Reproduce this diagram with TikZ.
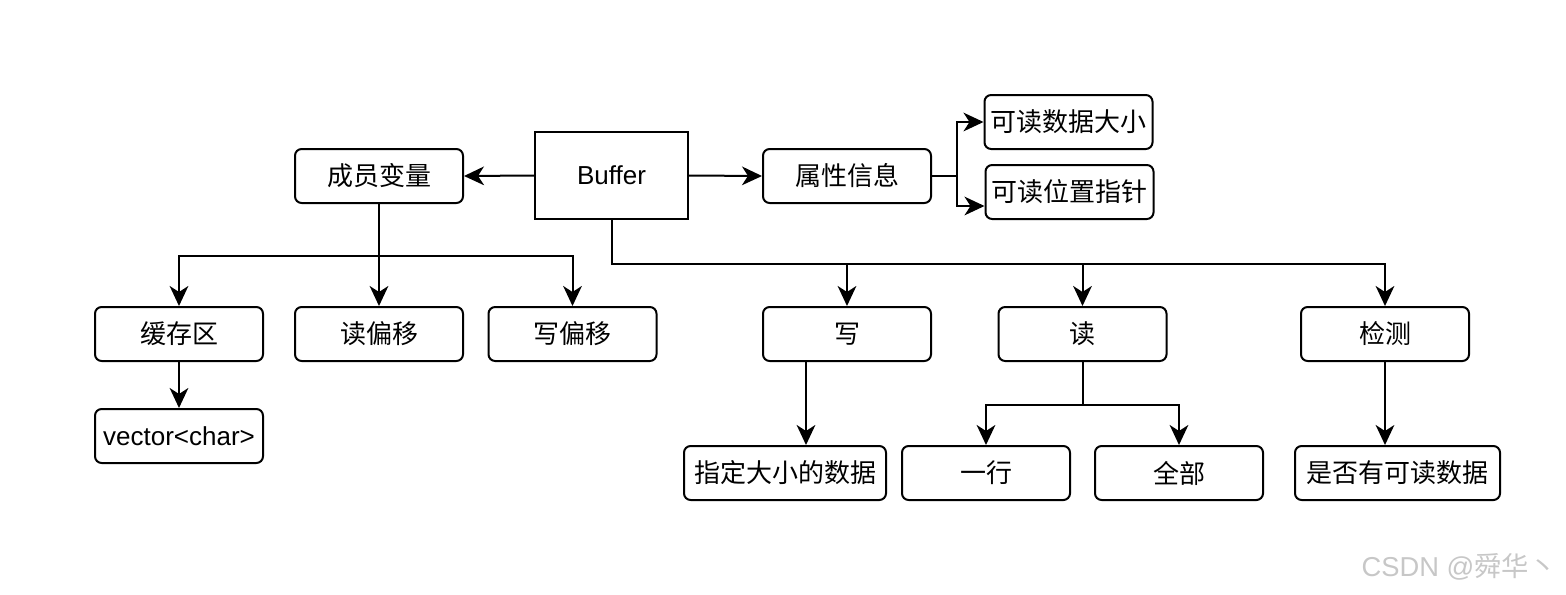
\documentclass[tikz,border=0pt]{standalone}
\usepackage{fontspec}
\setmainfont{Liberation Sans}
\newfontfamily\cjk{Noto Sans CJK SC}
\usepackage{tikz}
\usetikzlibrary{calc, arrows.meta}
\usetikzlibrary{positioning}
\tikzstyle{terminator} = [rectangle, draw, line width=1.5pt, text centered, rounded corners=5pt, minimum width=126pt, minimum height=40.5pt, inner sep=1pt, font=\cjk\fontsize{19.5}{23}\selectfont]
\tikzstyle{conn} = [line width=1.5pt, -{Stealth[length=15pt, width=14pt, inset=4.5pt]}]

\begin{document}
\begin{tikzpicture}[x=0.75pt, y=-0.75pt]
        \useasboundingbox (0, 0) rectangle (1566, 594);

        \node[rectangle, draw, line width=1.5pt, minimum width=114.75pt, minimum height=65.25pt, font=\fontsize{19.5}{23}\selectfont] at (611.5, 175.5) (Buffer) {Buffer};
        \node[terminator] at (379, 176) (Members) {成员变量};
        \node[terminator] at (847, 176) (Attrs) {属性信息};
        \node[terminator] at (1068.5, 122) (ReadableSize) {可读数据大小};
        \node[terminator] at (1069.5, 192) (ReadPointer) {可读位置指针};

        \node[terminator] at (179, 334) (Cache) {缓存区};
        \node[terminator] at (379, 334) (ReadOffset) {读偏移};
        \node[terminator] at (572.5, 334) (WriteOffset) {写偏移};
        \node[terminator, font=\fontsize{19.5}{23}\selectfont] at (179, 436) (Vector) {vector<char>};

        \node[terminator] at (847, 334) (Write) {写};
        \node[terminator] at (1082.5, 334) (Read) {读};
        \node[terminator] at (1385, 334) (Check) {检测};
        \node[terminator, minimum width=151.5pt] at (785, 473) (SizedData) {指定大小的数据};
        \node[terminator] at (986, 473) (OneLine) {一行};
        \node[terminator] at (1179, 473) (All) {全部};
        \node[terminator, minimum width=153.75pt] at (1397.5, 473) (HasData) {是否有可读数据};

        \draw[conn] (Buffer.west) -- (Members.east);
        \draw[conn] (Buffer.east) -- (Attrs.west);
        \draw[conn] (Attrs.east) -- ++(25, 0) |- (ReadableSize.west);
        \draw[conn] (Attrs.east) -- ++(25, 0) |- ($(ReadPointer.west)+(0, 14)$);

        \draw[conn] (Members.south) -- ++(0, 52) -| (Cache.north);
        \draw[conn] (Members.south) -- (ReadOffset.north);
        \draw[conn] (Members.south) -- ++(0, 52) -| (WriteOffset.north);
        \draw[conn] (Cache.south) -- (Vector.north);

        \draw[conn] (Buffer.south) -- ++(0, 44) -| (Write.north);
        \draw[conn] (Buffer.south) -- ++(0, 44) -| (Read.north);
        \draw[conn] (Buffer.south) -- ++(0, 44) -| (Check.north);

        \draw[conn] ($(Write.south)+(-41, 0)$) coordinate (WriteDown) -- (WriteDown |- SizedData.north);
        \draw[conn] (Read.south) -- ++(0, 43) -| (OneLine.north);
        \draw[conn] (Read.south) -- ++(0, 43) -| (All.north);
        \draw[conn] (Check.south) -- (Check.south |- HasData.north);

        \node[text=black!22, font=\fontsize{20.5}{22}\selectfont, anchor=west] at (1357, 567) (Mark) {CSDN @{\cjk 舜华丶}};

    \end{tikzpicture}
\end{document}
